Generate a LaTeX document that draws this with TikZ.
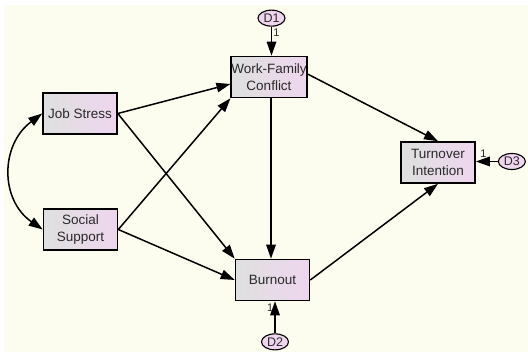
\documentclass[tikz,border=0pt]{standalone}
\usepackage{fontspec}
\setmainfont{Liberation Sans}
\usetikzlibrary{positioning, arrows.meta, shapes.geometric}

\definecolor{bgcream}{HTML}{FCFDEE}
\definecolor{boxgray}{HTML}{DEE0DF}
\definecolor{boxpink}{HTML}{EFD6EE}
\definecolor{inkgray}{HTML}{2A2A2A}

\begin{document}
\begin{tikzpicture}[x=1pt, y=-1pt, >={Triangle[length=14pt, width=9.5pt]}, line width=1.5pt,
  var/.style={draw, rectangle, line width=1.6pt, left color=boxgray, right color=boxpink,
    minimum width=74pt, minimum height=41pt, align=center, inner sep=0pt, text=inkgray,
    font=\fontsize{13.5}{17}\selectfont},
  err/.style={draw, ellipse, fill=boxpink, minimum width=27pt, minimum height=16pt,
    inner sep=0pt, line width=1.1pt, text=inkgray, font=\fontsize{12.5}{12.5}\selectfont},
  one/.style={inner sep=1pt, text=inkgray, font=\fontsize{11}{11}\selectfont}]
  \useasboundingbox (0,0) rectangle (528,352);
  \fill[white] (0,0) rectangle (528,352);
  \fill[bgcream] (4,5) rectangle (528,352);

  \node[var] at (80, 113.5) (js) {Job Stress};
  \node[var] at (80.5, 229.5) (ss) {Social\\Support};
  \node[var] at (269, 77) (wfc) {Work-Family\\Conflict};
  \node[var] at (272.5, 280) (burnout) {Burnout};
  \node[var] at (438, 162.5) (ti) {Turnover\\Intention};

  \node[err, above = 29pt of wfc, xshift=2.5pt] (d1) {D1};
  \node[err, below = 32pt of burnout, xshift=2.5pt] (d2) {D2};
  \node[err, right = 22pt of ti, yshift=1pt] (d3) {D3};

  \draw[<->] (js.west) .. controls (0,145) and (0,200) .. (ss.west);

  \draw[->] (js.east) -- ([yshift=-7pt]wfc.west);
  \draw[->] (js.east) -- (burnout.north west);
  \draw[->] (ss.east) -- (wfc.south west);
  \draw[->] (ss.east) -- (burnout.west);
  \draw[->] ([xshift=2pt]wfc.south) -- ([xshift=2pt]wfc.south |- burnout.north);
  \draw[->] ([yshift=3pt]wfc.east) -- (ti.north);
  \draw[->] (burnout.east) -- (ti.south);

  \draw[->] (d1) -- node[one, pos=0.2, right] (one1) {1} (d1 |- wfc.north);
  \draw[->] (d2) -- node[one, pos=0.8, left] (one2) {1} (d2 |- burnout.south);
  \draw[->] (d3) -- node[one, pos=0.65, above, yshift=2pt] (one3) {1} (d3 -| ti.east);
\end{tikzpicture}
\end{document}
